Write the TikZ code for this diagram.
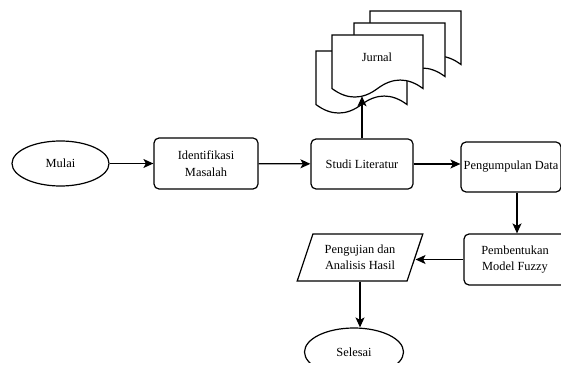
\documentclass[tikz,border=0pt]{standalone}
\usepackage{fontspec}
\setmainfont{Liberation Serif}
\usetikzlibrary{shapes.geometric,arrows.meta}

\begin{document}
\begin{tikzpicture}[x=1pt, y=-1pt, line width=1.2pt,
    every node/.style={font=\fontsize{12.4}{16.5}\selectfont, align=center, inner sep=0pt},
    proses/.style={draw, rounded corners=5pt, minimum height=50pt},
    terminal/.style={draw, ellipse, minimum width=97pt, minimum height=45pt},
    io/.style={draw, trapezium, trapezium left angle=65, trapezium right angle=115,
        trapezium stretches=true, minimum width=126pt, minimum height=47pt},
    panah/.style={-{Stealth[length=10pt, width=9pt, inset=2.5pt]}}]
    \useasboundingbox (0,0) rectangle (561,371);
    \clip (0,0) rectangle (561,362);

    % tumpukan dokumen
    \foreach \px/\py in {370/11, 354/23, 316/51, 332/35}
        \draw[fill=white, shift={(\px,\py)}] (0,0) -- (91,0) -- (91,53.55)
            .. controls (75.83,42.21) and (60.67,42.21) .. (45.5,53.55)
            .. controls (30.33,64.89) and (15.17,64.89) .. (0,53.55) -- cycle;
    \node (jurnal) at (377,57) {Jurnal};
    \coordinate (jwave) at (362,96.3);

    % alur
    \node[terminal] (mulai) at (60.5,163.5) {Mulai};
    \node[proses, minimum width=104pt, minimum height=51pt] (identifikasi) at (206,163.5) {Identifikasi\\Masalah};
    \node[proses, minimum width=102pt] (studi) at (362,164) {Studi Literatur};
    \node[proses, minimum width=100pt] (kumpul) at (511,167) {Pengumpulan Data};
    \node[proses, minimum width=102pt, minimum height=51pt] (bentuk) at (515,259.5) {Pembentukan\\Model Fuzzy};
    \node[io] (uji) at (360,257.5) {Pengujian dan\\Analisis Hasil};
    \node[terminal, minimum width=99pt, minimum height=48pt] (selesai) at (354,352) {Selesai};

    \draw[panah] (mulai) -- (identifikasi);
    \draw[panah] (identifikasi) -- (studi);
    \draw[panah] (studi.north) -- (jwave);
    \draw[panah] (studi.east) -- (studi.east -| kumpul.west);
    \draw[panah] ([xshift=6pt]kumpul.south) -- ([xshift=6pt]kumpul.south |- bentuk.north);
    \draw[panah] (bentuk.west) -- (bentuk.west -| uji.east);
    \draw[panah] (uji.south) -- (uji.south |- selesai.north);
\end{tikzpicture}
\end{document}
